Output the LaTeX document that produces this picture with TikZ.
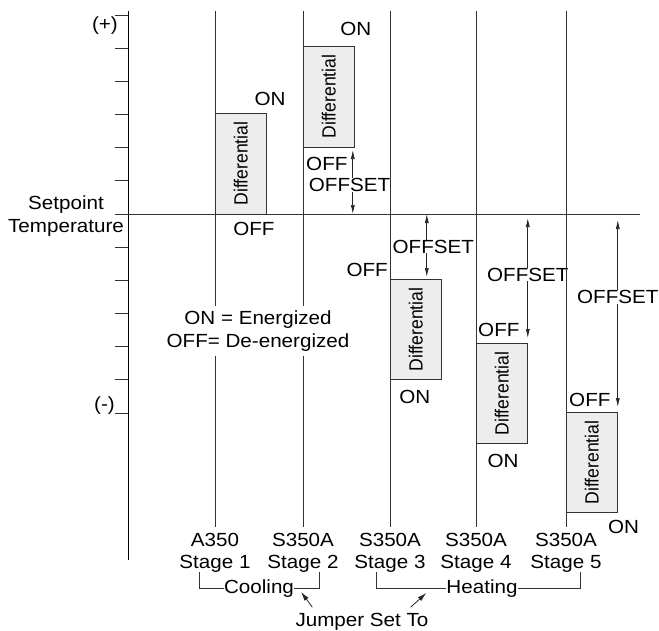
\documentclass[tikz,border=0pt]{standalone}
\usepackage{fontspec}
\setmainfont{Liberation Sans}
\usetikzlibrary{positioning, arrows.meta}

\begin{document}
\begin{tikzpicture}[
    x=1pt, y=-1pt,
    % --- STYLES ---
    txt/.style={
            font=\fontsize{19}{22.5}\selectfont,
            xscale=1.085,
            inner sep=0pt,
            align=center
        },
    diffbox/.style={
            draw=black!80,
            fill=black!7,
            line width=0.8pt,
            minimum width=51pt,
            minimum height=100pt,
            inner sep=0pt
        },
    difftxt/.style={
            font=\fontsize{17.6}{20}\selectfont,
            xscale=1.085,
            rotate=90,
            inner sep=0pt
        },
    rule/.style={draw=black!80, line width=0.8pt},
    offs/.style={
    <->,
    >={Latex[length=9pt, width=4pt]},
    draw=black!85,
    line width=0.7pt
    },
    offlbl/.style={txt, fill=white, midway},
    ptr/.style={-{Latex[length=9pt, width=5pt]}, draw=black!85, line width=0.8pt}
    ]
    \useasboundingbox (0,0) rectangle (659,630);

    % --- AXIS ---
    \coordinate (axtop) at (128,11);
    \coordinate (axbot) at (128,560);
    \draw[line width=0.9pt] (axtop) -- (axbot);
    \foreach \i in {0,...,12}
        \draw[rule] (115,15+33.17*\i) -- (128,15+33.17*\i);
    \coordinate (spL) at (115,214);
    \coordinate (spR) at (640,214);
    \draw[rule] (spL) -- (spR);

    \node[txt] (sp) at (66,216) {Setpoint\\Temperature};
    \node[txt, anchor=east] (plus) at (118,26) {(+)};
    \node[txt, anchor=east] (minus) at (115,406) {(-)};

    % --- DIFFERENTIAL BOXES ---
    \node[diffbox, anchor=south west] (d1) at (215,214) {};
    \node[diffbox, anchor=south west] (d2) at (303,147) {};
    \node[diffbox, anchor=north west] (d3) at (390,279) {};
    \node[diffbox, anchor=north west] (d4) at (476,343) {};
    \node[diffbox, anchor=north west] (d5) at (566,412) {};

    % --- OFFSET ---
    \path (d2.south east) ++(-2,0) coordinate (a2);
    \path (d3.north east) ++(-15,0) coordinate (a3);
    \path (d4.north east) coordinate (a4);
    \path (d5.north east) coordinate (a5);
    \draw[offs, shorten <=3pt] (a2) -- node[offlbl, xshift=-3pt, yshift=-4.5pt] {OFFSET} (a2 |- spL);
    \draw[offs, shorten >=2pt] (a3 |- spL) -- node[offlbl, xshift=6pt] {OFFSET} (a3);
    \draw[offs, shorten <=4pt, shorten >=5pt] (a4 |- spL) -- node[offlbl, yshift=4pt] {OFFSET} (a4);
    \draw[offs, shorten <=6pt, shorten >=5pt] (a5 |- spL) -- node[offlbl, pos=0.42] {OFFSET} (a5);

    % --- STAGES ---
    \foreach \n/\x/\m in {1/215/A350, 2/303/S350A, 3/390/S350A, 4/476/S350A, 5/566/S350A} {
        \coordinate (top\n) at (\x,11);
        \node[txt] (s\n) at (\x,553) {\m\\Stage \n};
        \draw[rule] (top\n) -- ([yshift=6pt]s\n.north);
    }

    % boxes over the stage lines
    \foreach \b in {1,...,5} {
        \draw[diffbox] (d\b.south west) rectangle (d\b.north east);
        \node[difftxt] at (d\b) {Differential};
    }

    % --- ON / OFF ---
    \node[txt, above=7pt of d1.north east, xshift=3pt] (on1) {ON};
    \node[txt, below=8pt of d1.south, xshift=12pt] (off1) {OFF};
    \node[txt, above=10pt of d2.north east, xshift=1pt] (on2) {ON};
    \node[txt, below right=10pt and 3pt of d2.south west] (off2) {OFF};
    \node[txt, below=10pt of d3.south, xshift=-1pt] (on3) {ON};
    \node[txt, above left=2pt and 2pt of d3.north west] (off3) {OFF};
    \node[txt, below=10pt of d4.south, xshift=1pt] (on4) {ON};
    \node[txt, above right=6pt and 2pt of d4.north west] (off4) {OFF};
    \node[txt, below right=7pt and -10pt of d5.south east] (on5) {ON};
    \node[txt, above right=5pt and 3pt of d5.north west] (off5) {OFF};

    \node[txt, fill=white, inner ysep=5pt] (legend) at (258,331) {ON = Energized\\OFF= De-energized};

    % --- JUMPER ---
    \draw[rule] (199,572) |- (319,588) -- (319,572);
    \draw[rule] (376,572) |- (580,588) -- (580,572);
    \node[txt, fill=white] (cool) at (259,589) {Cooling};
    \node[txt, fill=white] (heat) at (482,589) {Heating};
    \node[txt] (jump) at (362,622) {Jumper Set To};
    \draw[ptr] ([shift={(17pt,6pt)}]jump.north west) -- ([shift={(7pt,-3pt)}]cool.east);
    \draw[ptr] ([shift={(-18pt,6pt)}]jump.north east) -- ([shift={(-20pt,-4pt)}]heat.west);

\end{tikzpicture}
\end{document}
